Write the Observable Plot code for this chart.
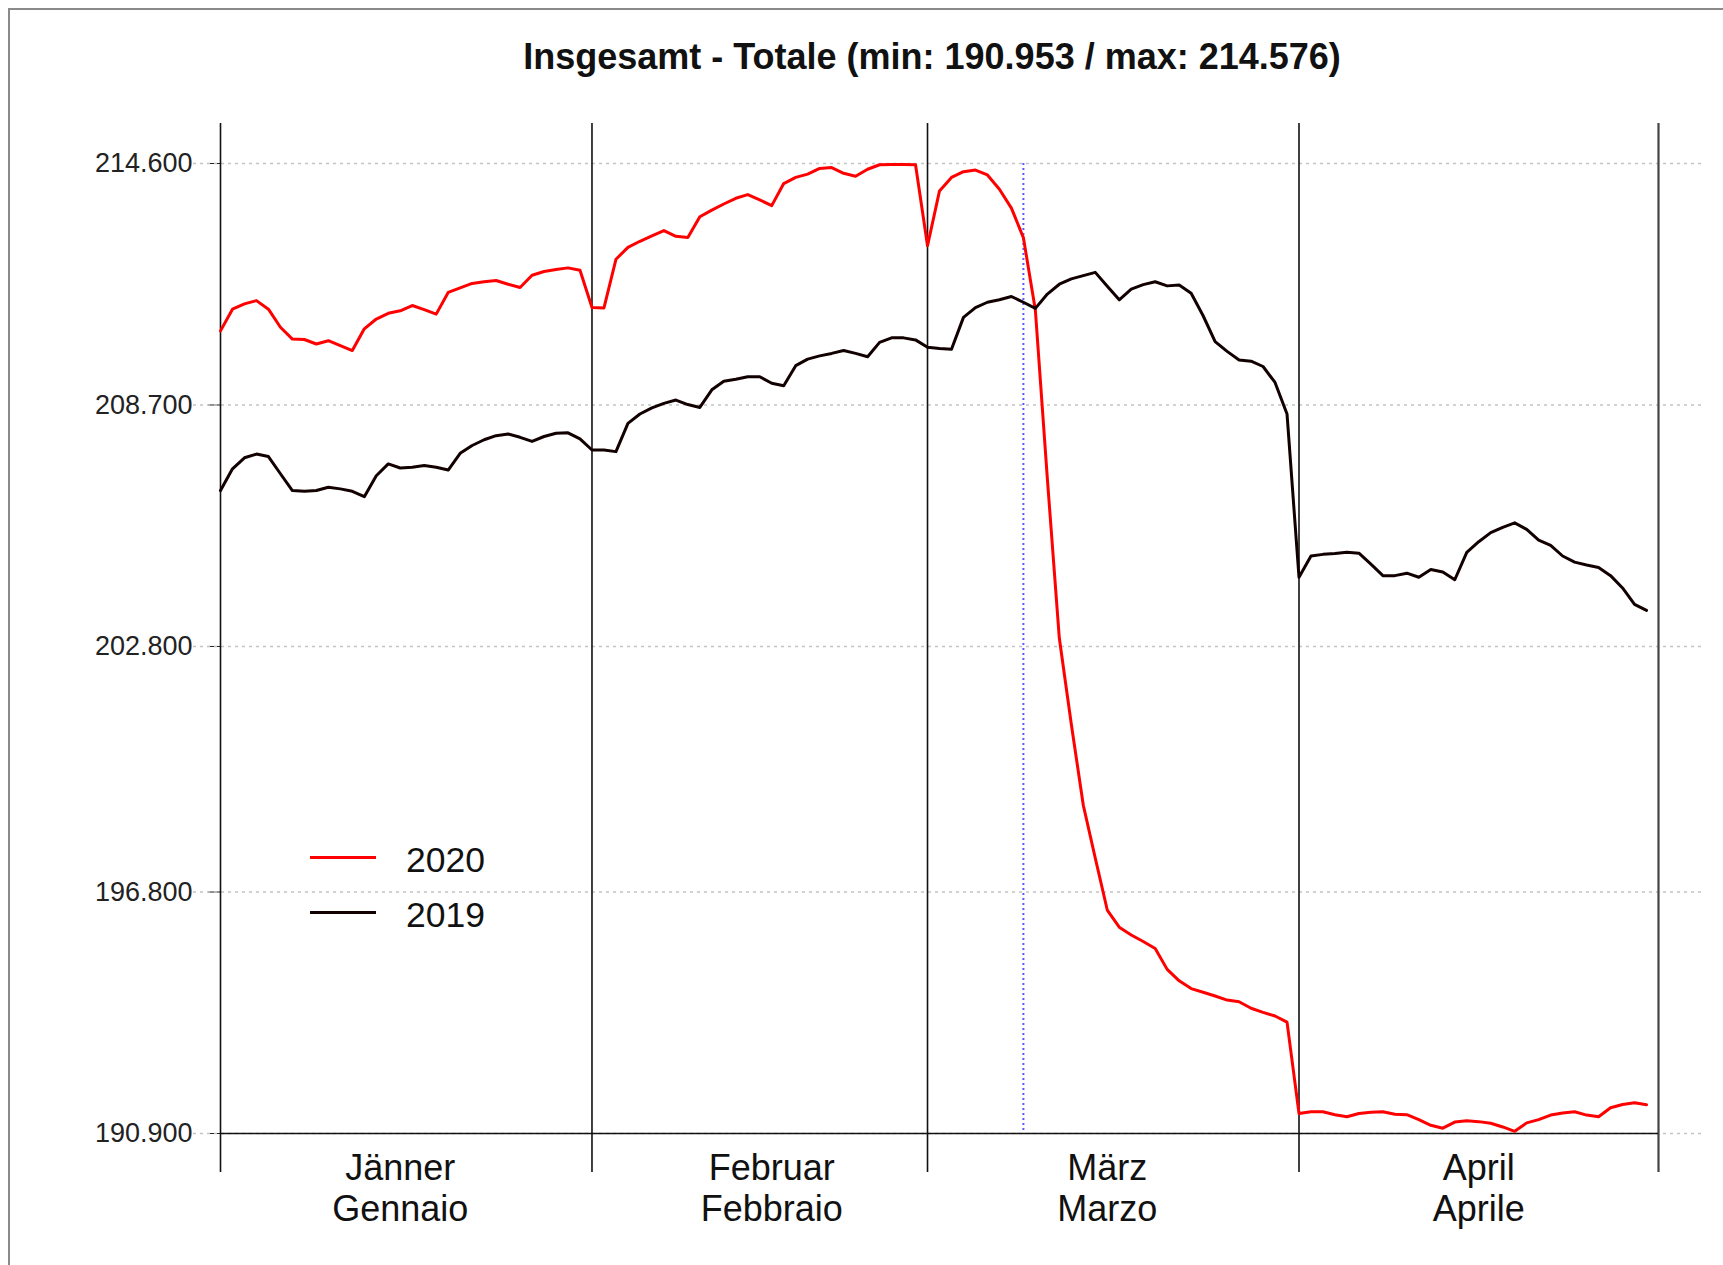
<!DOCTYPE html>
<html>
<head>
<meta charset="utf-8">
<script src="https://cdn.jsdelivr.net/npm/d3@7"></script>
<script src="https://cdn.jsdelivr.net/npm/@observablehq/plot@0.6"></script>
<style>
  html, body { margin: 0; padding: 0; background: #fff; }
  body { width: 1723px; height: 1265px; position: relative; overflow: hidden;
         font-family: "Liberation Sans", Arial, Helvetica, sans-serif; }
  #frame { position: absolute; left: 8px; top: 8px; width: 1800px; height: 1400px;
           border-left: 2px solid #8a8a8a; border-top: 2px solid #8a8a8a; }
  #title { position: absolute; top: 37px; left: 0; width: 1864px; text-align: center;
           font-weight: bold; font-size: 36px; line-height: 40px; color: #111; white-space: nowrap; }
  #chart { position: absolute; left: 0; top: 100px; }
  .leg-line { position: absolute; left: 310px; width: 66px; height: 3px; }
  .leg-text { position: absolute; left: 406px; font-size: 35.5px; line-height: 40px; color: #111; }
</style>
</head>
<body>
<div id="frame"></div>
<div id="title"></div>
<div id="chart"></div>
<div id="legend"></div>
<script>
// ---- data ----
const seriesNames = ["2020", "2019"];
const seriesColors = ["#ff0000", "#120000"];

// daily values (thousands), day index 0 = 1 January
const values2020 = [
  // Jänner
  210.51, 211.04, 211.17, 211.25, 211.04, 210.60, 210.31, 210.30, 210.19, 210.27, 210.15,
  210.03, 210.56, 210.80, 210.94, 211.00, 211.13, 211.03, 210.92, 211.45, 211.56, 211.67,
  211.71, 211.74, 211.65, 211.57, 211.87, 211.96, 212.01, 212.05, 211.99,
  // Februar
  211.08, 211.07, 212.26, 212.55, 212.70, 212.83, 212.96, 212.82, 212.79, 213.30, 213.46,
  213.61, 213.75, 213.84, 213.71, 213.57, 214.11, 214.26, 214.34, 214.48, 214.50, 214.36,
  214.29, 214.46, 214.57, 214.576, 214.576, 214.57,
  // März
  212.59, 213.93, 214.26, 214.40, 214.44, 214.32, 213.97, 213.51, 212.79, 211.02, 206.90,
  203.00, 200.90, 198.92, 197.63, 196.36, 195.94, 195.75, 195.59, 195.42, 194.91, 194.63,
  194.44, 194.35, 194.26, 194.16, 194.12, 193.96, 193.86, 193.77, 193.62,
  // April
  191.39, 191.43, 191.43, 191.36, 191.31, 191.39, 191.42, 191.43, 191.37, 191.36, 191.24,
  191.10, 191.03, 191.18, 191.21, 191.19, 191.15, 191.06, 190.953, 191.16, 191.24, 191.35,
  191.40, 191.43, 191.35, 191.31, 191.53, 191.61, 191.65, 191.60
];
const values2019 = [
  // Jänner
  206.61, 207.14, 207.41, 207.50, 207.44, 207.02, 206.61, 206.59, 206.61, 206.69, 206.65,
  206.59, 206.46, 206.97, 207.26, 207.16, 207.18, 207.22, 207.18, 207.11, 207.52, 207.71,
  207.85, 207.95, 207.99, 207.91, 207.81, 207.93, 208.01, 208.02, 207.87,
  // Februar
  207.60, 207.60, 207.56, 208.25, 208.48, 208.63, 208.74, 208.82, 208.71, 208.64, 209.07,
  209.28, 209.33, 209.39, 209.39, 209.23, 209.17, 209.66, 209.82, 209.90, 209.96, 210.03,
  209.96, 209.88, 210.23, 210.34, 210.34, 210.29,
  // März
  210.11, 210.08, 210.06, 210.84, 211.08, 211.21, 211.27, 211.35, 211.21, 211.06, 211.41,
  211.65, 211.78, 211.86, 211.94, 211.60, 211.27, 211.53, 211.64, 211.71, 211.61, 211.63,
  211.43, 210.88, 210.25, 210.01, 209.80, 209.77, 209.64, 209.25, 208.48,
  // April
  204.49, 205.01, 205.05, 205.07, 205.10, 205.08, 204.81, 204.53, 204.53, 204.59, 204.49,
  204.68, 204.62, 204.43, 205.10, 205.36, 205.58, 205.71, 205.82, 205.66, 205.40, 205.27,
  205.01, 204.86, 204.79, 204.73, 204.53, 204.23, 203.83, 203.68
];

const monthStarts = [0, 31, 59, 90, 120];          // day index of month boundaries
const monthLabelDays = [15, 46, 74, 105];          // day index where month labels sit
const monthsDE = ["Jänner", "Februar", "März", "April"];
const monthsIT = ["Gennaio", "Febbraio", "Marzo", "Aprile"];
const lockdownDay = [67];                          // 9 March

const yTickValues = [190.9, 196.8, 202.8, 208.7, 214.6];
const yTickLabels = ["190.900", "196.800", "202.800", "208.700", "214.600"];
const yDomain = [190.9, 214.6];
const xDomain = [0, 120];

const titleText = "Insgesamt - Totale (min: 190.953 / max: 214.576)";

// ---- build ----
const rows2020 = values2020.map((v, i) => ({day: i, value: v}));
const rows2019 = values2019.map((v, i) => ({day: i, value: v}));

document.getElementById("title").textContent = titleText;

const chart = Plot.plot({
  width: 1723,
  height: 1165,
  marginLeft: 220,
  marginRight: 65,
  marginTop: 63,
  marginBottom: 132,
  style: {
    fontFamily: "'Liberation Sans', Arial, Helvetica, sans-serif",
    fontSize: "27px",
    color: "#222",
    background: "transparent",
    overflow: "visible"
  },
  x: { domain: xDomain, axis: null },
  y: {
    domain: yDomain,
    ticks: yTickValues,
    tickFormat: d => yTickLabels[yTickValues.indexOf(d)],
    tickSize: 12,
    tickPadding: 16,
    label: null
  },
  marks: [
    // dotted horizontal grid
    Plot.ruleY(yTickValues, { stroke: "#c4c4c4", strokeWidth: 1.5, strokeDasharray: "3,4", insetLeft: -27, insetRight: -44 }),
    // month boundaries
    Plot.ruleX(monthStarts.slice(0, 4), { stroke: "#111", strokeWidth: 1.6, insetTop: -40, insetBottom: -39 }),
    Plot.ruleX(monthStarts.slice(4), { stroke: "#444", strokeWidth: 2.2, insetTop: -40, insetBottom: -39 }),
    // bottom axis line
    Plot.ruleY([yDomain[0]], { stroke: "#111", strokeWidth: 1.6 }),
    // lockdown marker
    Plot.ruleX(lockdownDay, { stroke: "#5a5aff", strokeWidth: 2, strokeDasharray: "2,3" }),
    // series
    Plot.line(rows2020, { x: "day", y: "value", stroke: seriesColors[0], strokeWidth: 3 }),
    Plot.line(rows2019, { x: "day", y: "value", stroke: seriesColors[1], strokeWidth: 3 }),
    // month labels
    Plot.text(monthLabelDays, {
      x: d => d,
      text: (d, i) => monthsDE[i] + "\n" + monthsIT[i],
      frameAnchor: "bottom",
      lineAnchor: "top",
      lineHeight: 1.15,
      dy: 17,
      fontSize: 36,
      fill: "#111"
    })
  ]
});
document.getElementById("chart").appendChild(chart);

// legend inside the plot area
const legend = document.getElementById("legend");
const legendTops = [855.5, 910.5];
seriesNames.forEach((name, i) => {
  const line = document.createElement("div");
  line.className = "leg-line";
  line.style.top = legendTops[i] + "px";
  line.style.background = seriesColors[i];
  legend.appendChild(line);
  const t = document.createElement("div");
  t.className = "leg-text";
  t.style.top = (legendTops[i] - 16) + "px";
  t.textContent = name;
  legend.appendChild(t);
});
</script>
</body>
</html>
